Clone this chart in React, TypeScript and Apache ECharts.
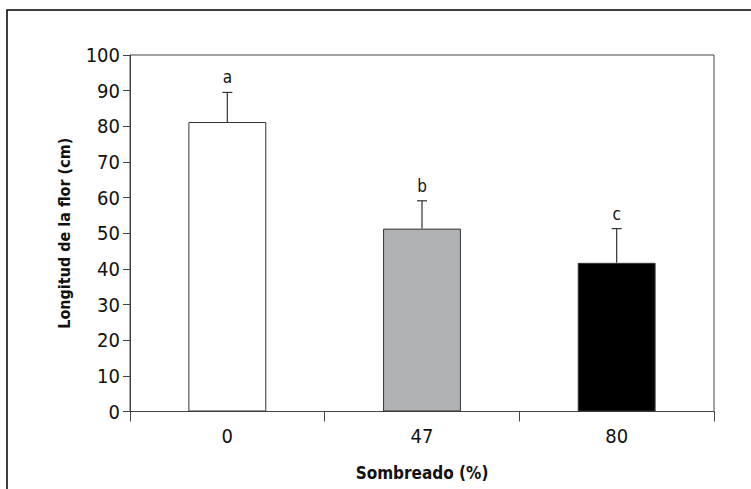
import React, { useEffect, useRef } from "react";
import * as echarts from "echarts";

const categories = ["0", "47", "80"];
const means = [81.2, 51.3, 41.7];
const errors = [8.3, 7.8, 9.6];
const letters = ["a", "b", "c"];
const barColors = ["#ffffff", "#b1b2b4", "#000000"];

const FONT = "'Liberation Sans Narrow', 'DejaVu Sans Condensed', 'Roboto Condensed', sans-serif";

export default function App() {
  const ref = useRef<HTMLDivElement>(null);
  useEffect(() => {
    if (!ref.current) return;
    const chart = echarts.init(ref.current, null, { renderer: "svg" });
    const option: any = {
      animation: false,
      backgroundColor: "#ffffff",
      grid: {
        left: 130,
        top: 55,
        right: 37,
        bottom: 77.5,
        show: true,
        borderColor: "#444",
        borderWidth: 1,
        backgroundColor: "transparent",
      },
      graphic: [
        {
          type: "rect",
          shape: { x: 7, y: 10, width: 800, height: 520 },
          style: { fill: "none", stroke: "#000", lineWidth: 1.5 },
          silent: true,
        },
      ],
      xAxis: {
        type: "category",
        data: categories,
        boundaryGap: true,
        name: "Sombreado (%)",
        nameLocation: "middle",
        nameGap: 53,
        nameTextStyle: { fontFamily: FONT, fontSize: 17, fontWeight: "bold", color: "#111" },
        axisLine: { lineStyle: { color: "#444", width: 1 } },
        axisTick: { show: true, alignWithLabel: false, length: 10, lineStyle: { color: "#444" } },
        axisLabel: { fontFamily: FONT, fontSize: 20, color: "#111", margin: 14 },
        splitLine: { show: false },
      },
      yAxis: {
        type: "value",
        min: 0,
        max: 100,
        interval: 10,
        name: "Longitud de la flor (cm)",
        nameLocation: "middle",
        nameGap: 58,
        nameRotate: 90,
        nameTextStyle: { fontFamily: FONT, fontSize: 16, fontWeight: "bold", color: "#111" },
        axisLine: { show: true, lineStyle: { color: "#444", width: 1 } },
        axisTick: { show: true, length: 7, lineStyle: { color: "#444" } },
        axisLabel: { fontFamily: FONT, fontSize: 20, color: "#111", margin: 10 },
        splitLine: { show: false },
      },
      series: [
        {
          type: "bar",
          barWidth: "40%",
          data: means.map((v, i) => ({
            value: v,
            itemStyle: { color: barColors[i], borderColor: "#333", borderWidth: 1 },
          })),
        },
        {
          type: "custom",
          z: 5,
          data: means.map((v, i) => [i, v, v + errors[i]]),
          renderItem: (params: any, api: any) => {
            const x = api.value(0);
            const base = api.coord([x, api.value(1)]);
            const top = api.coord([x, api.value(2)]);
            const idx = params.dataIndex;
            const half = 5;
            return {
              type: "group",
              children: [
                {
                  type: "line",
                  shape: { x1: base[0], y1: base[1], x2: top[0], y2: top[1] },
                  style: { stroke: "#333", lineWidth: 1.2 },
                },
                {
                  type: "line",
                  shape: { x1: top[0] - half, y1: top[1], x2: top[0] + half, y2: top[1] },
                  style: { stroke: "#333", lineWidth: 1.2 },
                },
                {
                  type: "text",
                  x: top[0],
                  y: top[1] - 15,
                  style: {
                    text: letters[idx],
                    fontFamily: FONT,
                    fontSize: 17,
                    fill: "#111",
                    align: "center",
                    verticalAlign: "middle",
                  },
                },
              ],
            };
          },
        },
      ],
    };
    chart.setOption(option);
    return () => chart.dispose();
  }, []);
  return (
    <div
      ref={ref}
      style={{ position: "fixed", left: 0, top: 0, width: 751, height: 489 }}
    />
  );
}
